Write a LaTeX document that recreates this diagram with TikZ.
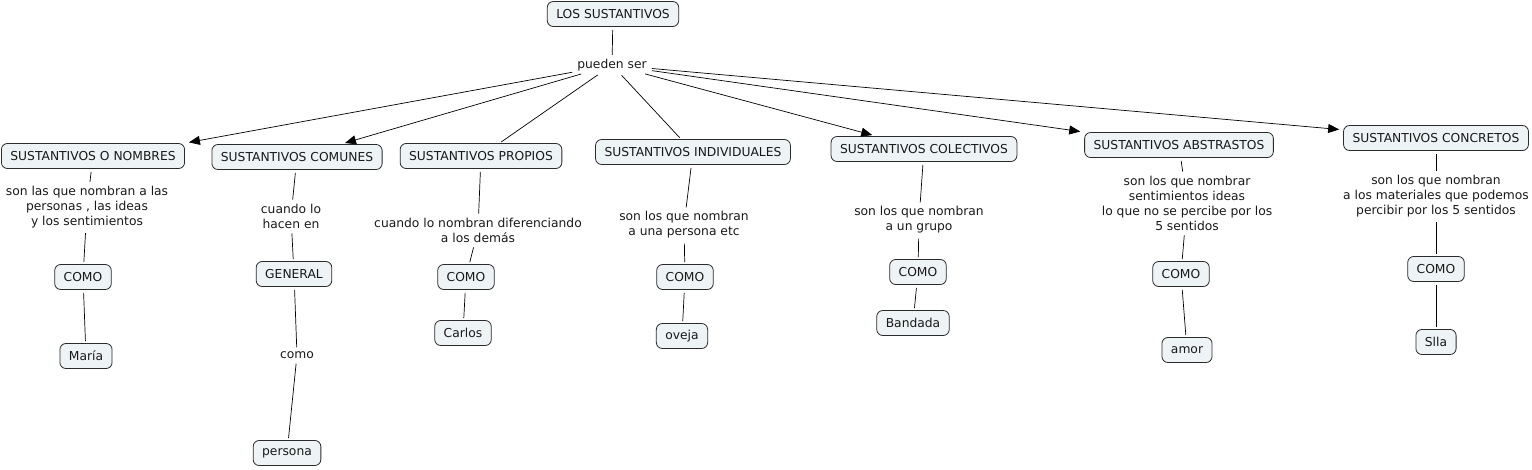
\documentclass[tikz,border=0pt]{standalone}
\usepackage{fontspec}
\setmainfont{DejaVu Sans}
\usetikzlibrary{arrows.meta}
\definecolor{boxfill}{HTML}{EEF3F5}
\definecolor{boxline}{HTML}{2B2B2B}
\begin{document}
\begin{tikzpicture}[
		x=1pt,y=-1pt,
		every node/.style={font=\fontsize{12.3}{15}\selectfont,text=black!90},
		concept/.style={draw=boxline,fill=boxfill,rounded corners=6pt,minimum height=25pt,inner xsep=9pt,line width=0.8pt},
		phrase/.style={align=center,inner sep=2pt},
		link/.style={line width=0.7pt,shorten <=3pt,shorten >=2pt},
		arrowlink/.style={link,-{Triangle[length=11pt,width=9pt]},shorten >=4pt}
	]
	\useasboundingbox (0,0) rectangle (1532,469);
	\node[concept] (top) at (613,14) {LOS SUSTANTIVOS};
	\node[phrase] (pu) at (612,65) {pueden ser};
	\node[concept] (nombres) at (93,156) {SUSTANTIVOS O NOMBRES};
	\node[concept] (comunes) at (297,157) {SUSTANTIVOS COMUNES};
	\node[concept] (propios) at (481,156) {SUSTANTIVOS PROPIOS};
	\node[concept] (indiv) at (693,152) {SUSTANTIVOS INDIVIDUALES};
	\node[concept] (colect) at (924,149) {SUSTANTIVOS COLECTIVOS};
	\node[concept] (abstr) at (1179,145) {SUSTANTIVOS ABSTRASTOS};
	\node[concept] (concr) at (1436,138) {SUSTANTIVOS CONCRETOS};

	\node[phrase] (ph1) at (87,207) {son las que nombran a las\\personas , las ideas\\y los sentimientos};
	\node[phrase] (ph2) at (291,216) {cuando lo\\hacen en};
	\node[phrase] (ph3) at (478,230) {cuando lo nombran diferenciando\\a los demás};
	\node[phrase] (ph4) at (684,225) {son los que nombran\\a una persona etc};
	\node[phrase] (ph5) at (919,220) {son los que nombran\\a un grupo};
	\node[phrase] (ph6) at (1187,203) {son los que nombrar\\sentimientos ideas\\lo que no se percibe por los\\5 sentidos};
	\node[phrase] (ph7) at (1436,196) {son los que nombran\\a los materiales que podemos\\percibir por los 5 sentidos};

	\node[concept] (como1) at (83,277) {COMO};
	\node[concept] (maria) at (86,356) {María};
	\node[concept] (general) at (294,274) {GENERAL};
	\node[phrase] (como) at (297,355) {como};
	\node[concept] (persona) at (287,453) {persona};
	\node[concept] (como3) at (466,277) {COMO};
	\node[concept] (carlos) at (463,333) {Carlos};
	\node[concept] (como4) at (685,277) {COMO};
	\node[concept] (oveja) at (682,336) {oveja};
	\node[concept] (como5) at (918,272) {COMO};
	\node[concept] (bandada) at (913,323) {Bandada};
	\node[concept] (como6) at (1181,274) {COMO};
	\node[concept] (amor) at (1187,350) {amor};
	\node[concept] (como7) at (1436,269) {COMO};
	\node[concept] (silla) at (1436,342) {Slla};

	\draw[link] (top) -- (pu);
	\draw[arrowlink] (pu) -- (nombres.north east);
	\draw[arrowlink] (pu) -- (comunes);
	\draw[link] (pu) -- (propios);
	\draw[link] (pu) -- (indiv);
	\draw[arrowlink] (pu) -- (colect);
	\draw[arrowlink] (pu) -- (abstr.north west);
	\draw[arrowlink] (pu) -- (concr);

	\draw[link] (nombres) -- (ph1);
	\draw[link] (ph1) -- (como1);
	\draw[link] (como1) -- (maria);
	\draw[link] (comunes) -- (ph2);
	\draw[link] (ph2) -- (general);
	\draw[link] (general) -- (como);
	\draw[link] (como) -- (persona);
	\draw[link] (propios) -- (ph3);
	\draw[link] (ph3) -- (como3);
	\draw[link] (como3) -- (carlos);
	\draw[link] (indiv) -- (ph4);
	\draw[link] (ph4) -- (como4);
	\draw[link] (como4) -- (oveja);
	\draw[link] (colect) -- (ph5);
	\draw[link] (ph5) -- (como5);
	\draw[link] (como5) -- (bandada);
	\draw[link] (abstr) -- (ph6);
	\draw[link] (ph6) -- (como6);
	\draw[link] (como6) -- (amor);
	\draw[link] (concr) -- (ph7);
	\draw[link] (ph7) -- (como7);
	\draw[link] (como7) -- (silla);
\end{tikzpicture}
\end{document}
